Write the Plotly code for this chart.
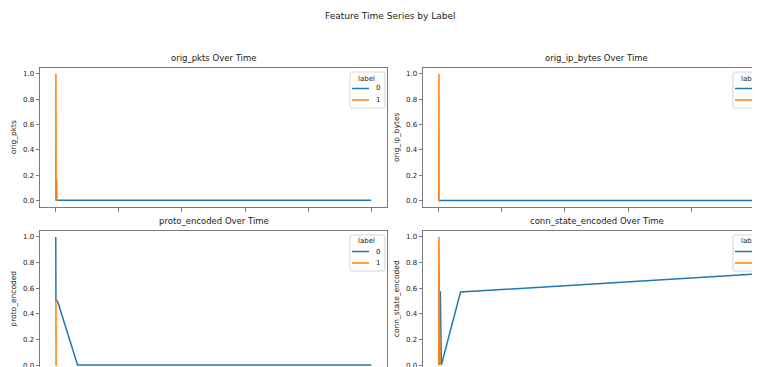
import plotly.graph_objects as go

# ---------------- data ----------------
features = ["orig_pkts", "orig_ip_bytes", "proto_encoded", "conn_state_encoded"]
labels = ["0", "1"]

# time axis (arbitrary units, 0 .. 100) for each label
time_label0 = [0.0, 0.05, 0.5, 0.8, 6.9, 100.0]
time_label1 = [0.0, 0.05, 0.1, 0.25, 0.4]

orig_pkts_0 = [0.003, 0.003, 0.003, 0.003, 0.003, 0.003]
orig_pkts_1 = [0.0, 1.0, 0.0, 0.17, 0.0]

orig_ip_bytes_0 = [0.002, 0.002, 0.002, 0.002, 0.002, 0.002]
orig_ip_bytes_1 = [0.0, 1.0, 0.0, 0.0, 0.0]

proto_encoded_0 = [1.0, 0.5, 0.5, 0.48, 0.0, 0.0]
proto_encoded_1 = [0.5, 0.5, 0.0, 0.0, 0.0]

conn_state_encoded_0 = [0.57, 0.57, 0.57, 0.0, 0.57, 0.71]
conn_state_encoded_1 = [0.0, 1.0, 0.0, 0.3, 0.0]

series = {
    "orig_pkts": (orig_pkts_0, orig_pkts_1),
    "orig_ip_bytes": (orig_ip_bytes_0, orig_ip_bytes_1),
    "proto_encoded": (proto_encoded_0, proto_encoded_1),
    "conn_state_encoded": (conn_state_encoded_0, conn_state_encoded_1),
}

x_ticks = [0, 20, 40, 60, 80, 100]
y_ticks = [0.0, 0.2, 0.4, 0.6, 0.8, 1.0]

# ---------------- layout geometry ----------------
VW, VH = 760, 367          # browser viewport
OFF = 8                    # default page margin around the figure div
FW, FH = VW - OFF, VH - OFF  # figure size so that it fills the viewport
FONT = "DejaVu Sans"
TXT = "#222222"
AX = "#7a7a7a"
COLORS = ["#1f77b4", "#ff7f0e"]


def fx(p):  # viewport pixel -> paper x
    return (p - OFF) / FW


def fy(p):  # viewport pixel -> paper y
    return 1 - (p - OFF) / FH


XR = [-5.0, 105.0]
YR = [-0.05, 1.05]
# full viewport pixel boxes of the four axes (left, right, top, bottom)
boxes = [
    (40, 387, 67.5, 207),
    (423, 770, 67.5, 207),
    (40, 387, 230.5, 371.5),
    (423, 770, 230.5, 371.5),
]

fig = go.Figure()
annotations = []
shapes = []

for i, feat in enumerate(features):
    n = i + 1
    xa = "x" if n == 1 else f"x{n}"
    ya = "y" if n == 1 else f"y{n}"
    v0, v1 = series[feat]
    for lab, t, v, c in zip(labels, [time_label0, time_label1], [v0, v1], COLORS):
        fig.add_trace(go.Scatter(
            x=t, y=v, mode="lines", name=lab,
            line=dict(color=c, width=1.5),
            xaxis=xa, yaxis=ya, showlegend=False,
        ))

    l, r, t_, b = boxes[i]
    rc = min(r, VW)
    bc = min(b, VH)
    xr = [XR[0], XR[0] + (XR[1] - XR[0]) * (rc - l) / (r - l)]
    yr = [YR[1] - (YR[1] - YR[0]) * (bc - t_) / (b - t_), YR[1]]
    cut_right = r > VW
    bottom_row = n > 2

    xkey = "xaxis" if n == 1 else f"xaxis{n}"
    ykey = "yaxis" if n == 1 else f"yaxis{n}"
    xax = dict(
        domain=[fx(l), fx(rc)], range=xr, anchor=ya,
        tickmode="array", tickvals=x_ticks, showticklabels=False,
        showgrid=False, zeroline=False,
        showline=True, linecolor=AX, linewidth=1,
        ticks="outside", ticklen=3.5, tickcolor=AX, tickwidth=1,
    )
    if bottom_row:
        xax.update(side="top", ticks="", mirror=False)
    else:
        xax.update(mirror=True)
    yax = dict(
        domain=[fy(bc), fy(t_)], range=yr, anchor=xa,
        tickmode="array", tickvals=y_ticks, tickformat=".1f",
        tickfont=dict(family=FONT, size=7, color=TXT),
        ticklabeloverflow="allow",
        showgrid=False, zeroline=False,
        showline=True, linecolor=AX, linewidth=1, mirror=not cut_right,
        ticks="outside", ticklen=3.5, tickcolor=AX, tickwidth=1,
        title=dict(text=feat, font=dict(family=FONT, size=7.5, color=TXT), standoff=5),
    )
    fig.update_layout({xkey: xax, ykey: yax})

    # subplot title
    annotations.append(dict(
        text=f"{feat} Over Time", xref="paper", yref="paper",
        x=fx((l + r) / 2), y=fy(t_ - 3), xanchor="center", yanchor="bottom",
        showarrow=False, font=dict(family=FONT, size=8.5, color=TXT),
    ))

    # legend box (matplotlib style) in the upper right corner of the axes
    L, T = l + 310, t_ + 4.5
    R, B = L + 35, T + 36
    rr = 2
    path = (f"M {fx(L + rr)},{fy(T)} L {fx(R - rr)},{fy(T)} Q {fx(R)},{fy(T)} {fx(R)},{fy(T + rr)} "
            f"L {fx(R)},{fy(B - rr)} Q {fx(R)},{fy(B)} {fx(R - rr)},{fy(B)} "
            f"L {fx(L + rr)},{fy(B)} Q {fx(L)},{fy(B)} {fx(L)},{fy(B - rr)} "
            f"L {fx(L)},{fy(T + rr)} Q {fx(L)},{fy(T)} {fx(L + rr)},{fy(T)} Z")
    shapes.append(dict(type="path", path=path, xref="paper", yref="paper",
                       fillcolor="rgba(255,255,255,0.85)",
                       line=dict(color="#d4d4d4", width=1), layer="above"))
    annotations.append(dict(
        text="label", xref="paper", yref="paper", x=fx(L + 16), y=fy(T + 6.5),
        xanchor="center", yanchor="middle", showarrow=False,
        font=dict(family=FONT, size=7, color=TXT),
    ))
    for k, (lab, c) in enumerate(zip(labels, COLORS)):
        yy = T + 16.5 + 11.5 * k
        shapes.append(dict(type="line", xref="paper", yref="paper",
                           x0=fx(L + 2), x1=fx(L + 19), y0=fy(yy), y1=fy(yy),
                           line=dict(color=c, width=1.5), layer="above"))
        annotations.append(dict(
            text=lab, xref="paper", yref="paper", x=fx(L + 24), y=fy(yy),
            xanchor="left", yanchor="middle", showarrow=False,
            font=dict(family=FONT, size=7, color=TXT),
        ))

annotations.append(dict(
    text="Feature Time Series by Label", xref="paper", yref="paper",
    x=fx(390), y=fy(16), xanchor="center", yanchor="middle",
    showarrow=False, font=dict(family=FONT, size=9, color=TXT),
))

fig.update_layout(
    width=FW, height=FH,
    margin=dict(l=0, r=0, t=0, b=0, autoexpand=False),
    paper_bgcolor="white", plot_bgcolor="white",
    font=dict(family=FONT, size=7, color=TXT),
    annotations=annotations, shapes=shapes, showlegend=False,
)

fig.write_html("out.html")
